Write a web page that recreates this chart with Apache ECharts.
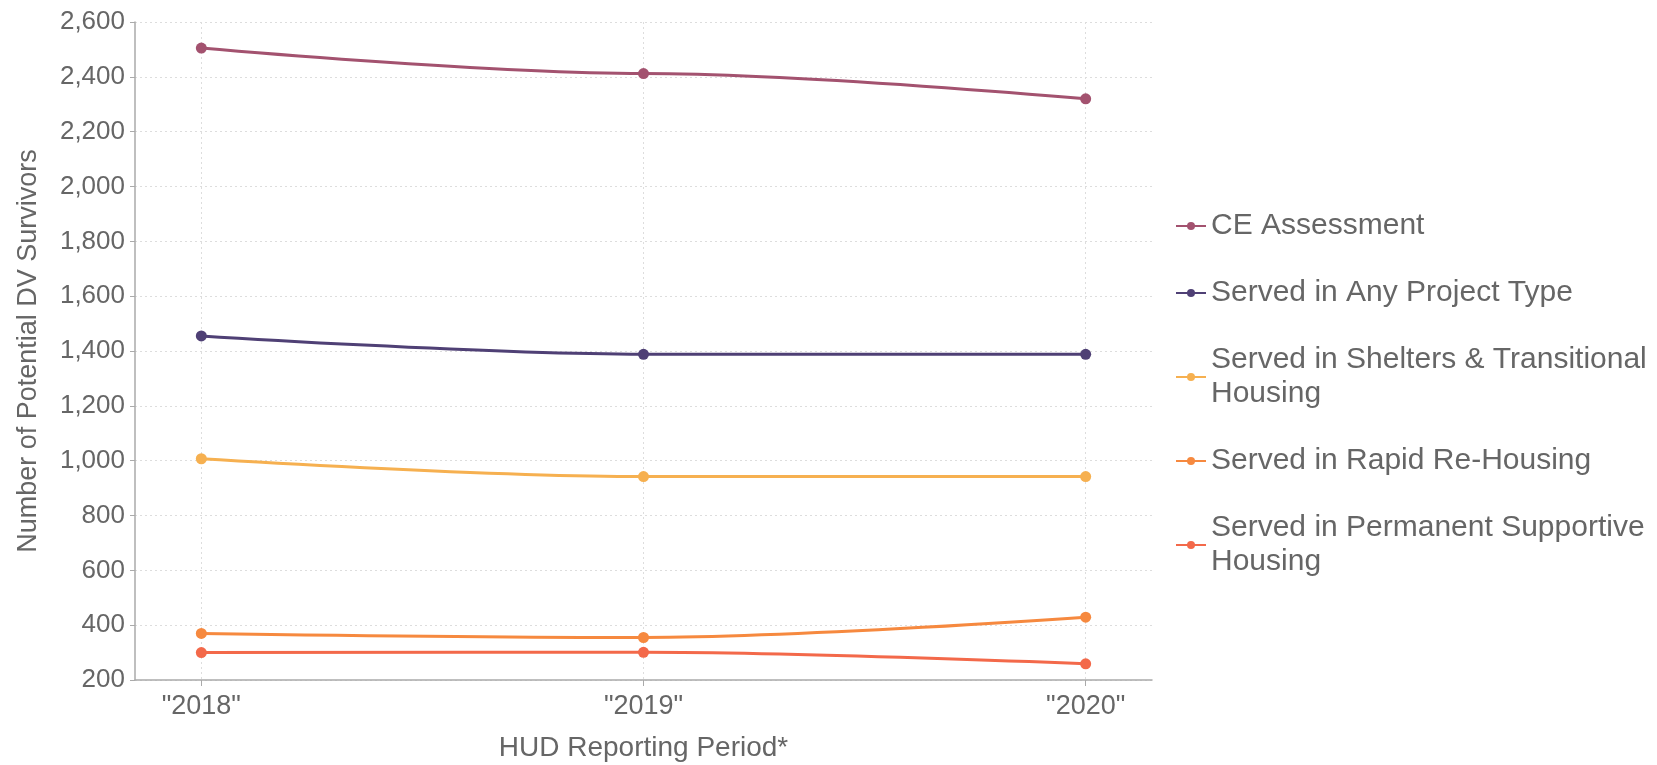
<!DOCTYPE html>
<html>
<head>
<meta charset="utf-8">
<script src="https://cdn.jsdelivr.net/npm/echarts@6/dist/echarts.min.js"></script>
<style>html,body{margin:0;padding:0;background:#fff;}#c{width:1657px;height:765px;}</style>
</head>
<body>
<div id="c"></div>
<script>
const categories = ['2018', '2019', '2020'];
const seriesNames = [
  'CE Assessment',
  'Served in Any Project Type',
  'Served in Shelters & Transitional Housing',
  'Served in Rapid Re-Housing',
  'Served in Permanent Supportive Housing'
];
const ceAssessment = [2505, 2412, 2320];
const anyProject = [1455, 1388, 1388];
const sheltersTH = [1007, 942, 942];
const rapidRehousing = [370, 355, 429];
const permanentSupportive = [300, 301, 259];
const yTicks = { min: 200, max: 2600, step: 200 };
const colors = ['#a3526f', '#4f4075', '#f6b050', '#f6893f', '#f3694a'];

const values = [ceAssessment, anyProject, sheltersTH, rapidRehousing, permanentSupportive];
const catIdx = categories.map((c, i) => i);
const textColor = '#666';
const font = 'Liberation Sans, Arial, Helvetica, sans-serif';
const legendFontSize = 30;
const legendTextWidth = 445;

// word wrap legend labels to a max pixel width
const ctx = document.createElement('canvas').getContext('2d');
ctx.font = legendFontSize + 'px ' + font;
function wrap(text) {
  const words = text.split(' ');
  const lines = [];
  let cur = '';
  words.forEach(w => {
    const t = cur ? cur + ' ' + w : w;
    if (cur && ctx.measureText(t).width > legendTextWidth) { lines.push(cur); cur = w; }
    else cur = t;
  });
  if (cur) lines.push(cur);
  return lines.join('\n');
}

const chart = echarts.init(document.getElementById('c'));
chart.setOption({
  animation: false,
  textStyle: { fontFamily: font },
  grid: { left: 135, right: 505, top: 22, bottom: 85, containLabel: false, outerBoundsMode: 'none' },
  legend: {
    orient: 'vertical',
    left: 1170,
    top: 204,
    itemGap: 33,
    itemWidth: 30,
    itemHeight: 10,
    formatter: name => wrap(name),
    textStyle: {
      color: textColor, fontSize: legendFontSize, fontFamily: font, lineHeight: 34
    },
    data: seriesNames
  },
  xAxis: {
    type: 'value',
    min: -0.15,
    max: 2.15,
    name: 'HUD Reporting Period*',
    nameLocation: 'middle',
    nameGap: 54,
    nameTextStyle: { color: textColor, fontSize: 28, fontFamily: font },
    axisLine: { show: true, onZero: false, lineStyle: { color: '#aaa', width: 1.5 } },
    axisTick: { show: true, customValues: catIdx, length: 6, lineStyle: { color: '#aaa' } },
    axisLabel: {
      customValues: catIdx, color: textColor, fontSize: 27, margin: 13,
      formatter: v => '"' + categories[Math.round(v)] + '"'
    },
    splitLine: { show: true, lineStyle: { color: '#ddd', type: [2, 3], width: 1 } }
  },
  yAxis: {
    type: 'value',
    min: yTicks.min,
    max: yTicks.max,
    interval: yTicks.step,
    name: 'Number of Potential DV Survivors',
    nameLocation: 'middle',
    nameGap: 93,
    nameTextStyle: { color: textColor, fontSize: 27, fontFamily: font },
    axisLine: { show: true, onZero: false, lineStyle: { color: '#aaa', width: 1.5 } },
    axisTick: { show: true, length: 5, lineStyle: { color: '#aaa' } },
    axisLabel: {
      color: textColor, fontSize: 26, margin: 10,
      formatter: v => v.toLocaleString('en-US')
    },
    splitLine: { show: true, lineStyle: { color: '#ddd', type: [2, 3], width: 1 } }
  },
  series: seriesNames.map((name, i) => ({
    name: name,
    type: 'line',
    data: values[i].map((v, j) => [catIdx[j], v]),
    smooth: 0.35,
    smoothMonotone: 'x',
    symbol: 'circle',
    symbolSize: 11,
    color: colors[i],
    lineStyle: { width: 3, color: colors[i] },
    itemStyle: { color: colors[i] }
  }))
});
</script>
</body>
</html>
